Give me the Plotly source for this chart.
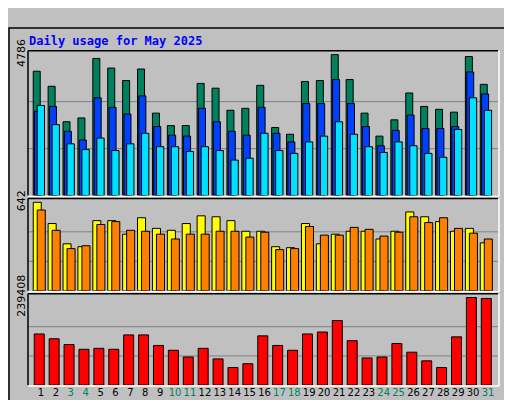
import plotly.graph_objects as go

days = list(range(1, 32))
weekend = [3, 4, 10, 11, 17, 18, 24, 25, 31]

hits = [4223, 3712, 2507, 2637, 4656, 4330, 3907, 4298, 2800, 2377, 2377, 3810, 3647, 2898, 2963, 3744,
        2312, 2084, 3875, 3907, 4786, 3940, 2800, 2019, 2572, 3484, 3028, 2930, 2833, 4721, 3777]
files = [2865, 3028, 2182, 1888, 3321, 2996, 2768, 3386, 2344, 2051, 2019, 2963, 2507, 2182, 2051, 2996,
         2116, 1823, 3126, 3126, 3940, 3126, 2344, 1693, 2214, 2735, 2279, 2279, 2344, 4200, 3451]
pages = [3061, 2409, 1758, 1563, 1954, 1530, 1758, 2116, 1661, 1661, 1498, 1661, 1530, 1205, 1270, 2116,
         1530, 1433, 1823, 2019, 2507, 2084, 1661, 1465, 1823, 1693, 1433, 1302, 2247, 3321, 2898]
sites = [642, 488, 341, 320, 509, 509, 411, 530, 453, 439, 488, 544, 537, 509, 432, 432,
         320, 313, 488, 341, 411, 432, 432, 376, 432, 572, 537, 502, 432, 453, 348]
visits = [586, 439, 306, 327, 481, 502, 439, 432, 411, 376, 411, 411, 432, 432, 390, 425,
          299, 306, 467, 404, 404, 460, 446, 397, 425, 537, 495, 530, 453, 418, 376]
kbytes = [139800, 126700, 111000, 97900, 100500, 97900, 137200, 137200, 108400, 95200, 76900, 100500,
          71700, 48100, 58500, 134600, 108400, 95200, 139800, 145100, 176500, 121500, 74300, 76900,
          113600, 90000, 66400, 48100, 131900, 239408, 236800]

W, H = 512, 400
GREEN, BLUE, CYAN = '#00805C', '#0040FF', '#00E0FF'
YELLOW, ORANGE, RED = '#FFFF00', '#FF8000', '#FF0000'
MONO = 'DejaVu Sans Mono'

def px(x):
    return x / W

def py(y):
    return 1 - y / H

fig = go.Figure()

def bar(vals, color, axis, offset, width):
    fig.add_trace(go.Bar(x=days, y=vals, xaxis='x' + axis, yaxis='y' + axis,
                         marker=dict(color=color, line=dict(color='black', width=1)),
                         offset=offset, width=width, hoverinfo='skip'))

bar(hits, GREEN, '', -0.52, 0.47)
bar(files, BLUE, '', -0.43, 0.47)
bar(pages, CYAN, '', -0.25, 0.49)
bar(sites, YELLOW, '2', -0.52, 0.54)
bar(visits, ORANGE, '2', -0.25, 0.54)
bar(kbytes, RED, '3', -0.45, 0.67)

sl = "<span style='color:black'> / </span>"
right_titles = [
    "<span style='color:%s'>Pages</span>%s<span style='color:%s'>Files</span>%s<span style='color:%s'>Hits</span>"
    % (CYAN, sl, BLUE, sl, GREEN),
    "<span style='color:%s'>Sites</span>%s<span style='color:%s'>Visits</span>" % (ORANGE, sl, YELLOW),
    "<span style='color:%s'>KBytes</span>" % RED,
]

xdom = [px(20), px(490)]
xrange = [0.13, 31.67]
panels = [('', 25, 177, max(hits), 151 / 147),
          ('2', 180, 277, max(sites), 96 / 92),
          ('3', 280, 376, max(kbytes), 96 / 92)]

ticktext = ["<span style='color:%s'>%d</span>" % (GREEN if d in weekend else 'black', d) for d in days]

layout = dict(width=W, height=H, margin=dict(l=0, r=0, t=0, b=0),
              paper_bgcolor='#C0C0C0', plot_bgcolor='#C0C0C0',
              barmode='overlay', showlegend=False, font=dict(family=MONO, size=11, color='black'))
shapes = []
annotations = []
for i, (axis, top, bottom, mx, f) in enumerate(panels):
    key = axis
    ydom = [py(bottom), py(top)]
    layout['xaxis' + key] = dict(domain=xdom, range=xrange, anchor='y' + key,
                                 showgrid=False, zeroline=False, fixedrange=True,
                                 showticklabels=(axis == '3'), tickangle=0,
                                 tickvals=days, ticktext=ticktext, ticks='', ticklen=0,
                                 tickfont=dict(family='DejaVu Sans', size=10))
    layout['yaxis' + key] = dict(domain=ydom, range=[0, mx * f], anchor='x' + key,
                                 tickvals=[mx], ticktext=[str(mx)], tickangle=-90, ticks='',
                                 showgrid=False, zeroline=False, fixedrange=True,
                                 tickfont=dict(family='DejaVu Sans', size=11, color='black'))
    # right-side label as a title on an invisible overlaying axis
    rk = str(4 + i)
    layout['yaxis' + rk] = dict(domain=ydom, overlaying='y' + key, side='right', anchor='x' + key,
                                showticklabels=False, showgrid=False, zeroline=False, ticks='',
                                range=[0, 1], fixedrange=True,
                                title=dict(text=right_titles[i], standoff=4,
                                           font=dict(family=MONO, size=11)))
    for g in (mx / 3, 2 * mx / 3):
        shapes.append(dict(type='line', xref='x' + key + ' domain', yref='y' + key, x0=0, x1=1, y0=g, y1=g,
                           line=dict(color='#808080', width=1), layer='below'))
    # frame: black top/left, white bottom/right
    shapes.append(dict(type='line', xref='paper', yref='paper', x0=px(20), x1=px(490), y0=py(top), y1=py(top), line=dict(color='black', width=1.5)))
    shapes.append(dict(type='line', xref='paper', yref='paper', x0=px(20), x1=px(20), y0=py(top), y1=py(bottom), line=dict(color='black', width=1.5)))
    shapes.append(dict(type='line', xref='paper', yref='paper', x0=px(20), x1=px(491), y0=py(bottom + 1), y1=py(bottom + 1), line=dict(color='white', width=1.5)))
    shapes.append(dict(type='line', xref='paper', yref='paper', x0=px(491), x1=px(491), y0=py(top), y1=py(bottom + 1), line=dict(color='white', width=1.5)))

# outer bevelled border
shapes.append(dict(type='rect', xref='paper', yref='paper', x0=px(1), x1=px(506), y0=py(394), y1=py(1),
                   line=dict(color='black', width=1.5), layer='below'))
shapes.append(dict(type='rect', xref='paper', yref='paper', x0=px(506), x1=px(512), y0=py(400), y1=py(4),
                   fillcolor='#808080', line=dict(width=0), layer='below'))
shapes.append(dict(type='rect', xref='paper', yref='paper', x0=px(4), x1=px(512), y0=py(400), y1=py(394),
                   fillcolor='#808080', line=dict(width=0), layer='below'))

annotations.append(dict(text='<b>Daily usage for May 2025</b>', xref='paper', yref='paper', x=px(19), y=py(15),
                        xanchor='left', yanchor='middle', showarrow=False,
                        font=dict(family=MONO, size=12, color='#0000FF')))

layout['shapes'] = shapes
layout['annotations'] = annotations
fig.update_layout(**layout)
fig.write_html("out.html")
